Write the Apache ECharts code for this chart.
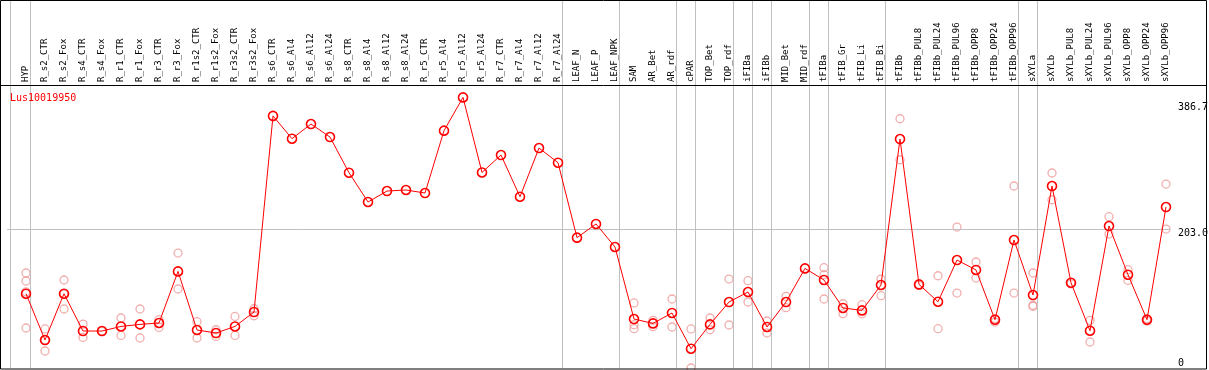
<!DOCTYPE html>
<html>
<head>
<meta charset="utf-8">
<script src="https://cdn.jsdelivr.net/npm/echarts@6/dist/echarts.min.js"></script>
<style>html,body{margin:0;padding:0;background:#fff;}#c{width:1209px;height:370px;}</style>
</head>
<body>
<div id="c"></div>
<script>
var categories = ["HYP","R_s2_CTR","R_s2_Fox","R_s4_CTR","R_s4_Fox","R_r1_CTR","R_r1_Fox","R_r3_CTR","R_r3_Fox","R_r1s2_CTR","R_r1s2_Fox","R_r3s2_CTR","R_r3s2_Fox",
"R_s6_CTR","R_s6_Al4","R_s6_Al12","R_s6_Al24","R_s8_CTR","R_s8_Al4","R_s8_Al12","R_s8_Al24","R_r5_CTR","R_r5_Al4","R_r5_Al12","R_r5_Al24","R_r7_CTR","R_r7_Al4","R_r7_Al12","R_r7_Al24",
"LEAF_N","LEAF_P","LEAF_NPK","SAM","AR_Bet","AR_rdf","cPAR","TOP_Bet","TOP_rdf","iFIBa","iFIBb","MID_Bet","MID_rdf","tFIBa","tFIB_Gr","tFIB_Li","tFIB_Bi",
"tFIBb","tFIBb_PUL8","tFIBb_PUL24","tFIBb_PUL96","tFIBb_OPP8","tFIBb_OPP24","tFIBb_OPP96",
"sXYLa","sXYLb","sXYLb_PUL8","sXYLb_PUL24","sXYLb_PUL96","sXYLb_OPP8","sXYLb_OPP24","sXYLb_OPP96"];

var means = [108.3, 40.8, 108.3, 53.9, 53.9, 60.6, 63.6, 65.6, 140.8, 55.4, 51.0, 60.6, 81.6,
367.5, 334.3, 355.7, 336.7, 284.7, 242.0, 258.0, 259.5, 255.1, 346.0, 394.5, 285.1, 310.5, 249.7, 320.7, 299.3,
190.0, 210.0, 176.4,
71.4, 65.0, 80.2, 28.1, 63.6, 96.2, 110.8, 59.8, 96.2, 145.2, 128.3, 87.5, 84.0, 121.0,
333.8, 121.9, 96.6, 157.4, 142.9, 70.4, 186.6,
106.4, 265.3, 124.3, 54.4, 207.0, 136.0, 70.4, 234.7];

var replicates = [
[138.5,126.8,111,58.3],[56.9,24.8,41],[128.3,86,108],[64.1,44.6],[53.9],[72.9,47.5],[86,43.7],[70.4,59.2],[167.6,115.2],[67.5,43.7],[55.8,46.1],[75.2,47.5],[86.4,76.2],
[],[],[],[],[],[],[],[],[],[],[],[],[],[],[],[],
[],[],[],
[94.8,63.1,57.3],[69.4,60.2],[100.6,59.8],[56.9,0],[72.9,55.8],[129.7,62.7],[127.3,96.2],[68.5,51],[104.4,87.9],[],[146.2,136,100.6],[93.7,79.2],[92.3,79.2],[129.7,105.4],
[363.4,303.6],[120.5],[134.5,57.3],[205.5,109.3],[154.5,131.2],[67,72],[265.3,109.3],
[138.5,91.5,89.8],[284.3,245.3],[122.5],[69.4,37.9],[220.6,195.3],[143.3,127.7],[68.5,72],[268.2,202.6]];

var groupEnds = [0, 28, 31, 34, 35, 37, 38, 39, 41, 42, 45, 52, 53, 60];
var yTickValues = [0, 203.0, 386.7];
var yTickLabels = ["0", "203.0", "386.7"];
var geneName = "Lus10019950";

var FONT = "DejaVu Sans Mono";
var lineData = means.map(function(v,i){return [i,v];});
var repData = [];
replicates.forEach(function(arr,i){arr.forEach(function(v){repData.push([i,v]);});});

var vLines = [{xAxis: -0.842}].concat(groupEnds.map(function(g){return {xAxis: g + 0.237};}));
var hLines = yTickValues.map(function(v,k){
  return {yAxis: v,
    lineStyle: {color: v === 203.0 ? '#c0c0c0' : 'rgba(0,0,0,0)', width: 1, type: 'solid'},
    label: {show: true, position: 'end', distance: 8, formatter: yTickLabels[k], color: '#000',
      fontFamily: FONT, fontSize: 10, verticalAlign: v === 0 ? 'bottom' : 'top'}};
});

var chart = echarts.init(document.getElementById('c'), null, {renderer: 'canvas'});
chart.setOption({
  animation: false,
  backgroundColor: '#fff',
  grid: {left: 7, right: 39, top: 0, bottom: 2},
  xAxis: {type: 'value', min: -1, max: 60.21, interval: 1, position: 'top', offset: -85,
    axisLine: {show: false}, axisTick: {show: false}, splitLine: {show: false},
    axisLabel: {rotate: 90, margin: 3, showMaxLabel: false, showMinLabel: false,
      fontFamily: FONT, fontSize: 9, color: '#000',
      formatter: function(v){var r = Math.round(v); if (Math.abs(v - r) > 1e-6) return ''; return categories[r] || '';}}},
  yAxis: {type: 'value', min: 0, max: 536.5, show: false},
  series: [
    {type: 'line', data: [], silent: true,
      markLine: {silent: true, symbol: ['none','none'], animation: false,
        lineStyle: {color: '#c0c0c0', width: 1, type: 'solid'}, label: {show: false},
        data: vLines.concat(hLines)}},
    {type: 'scatter', data: repData, symbol: 'circle', symbolSize: 8, z: 3,
      itemStyle: {color: 'rgba(0,0,0,0)', borderColor: '#ee9a9a', borderWidth: 1.3}},
    {type: 'line', data: lineData, symbol: 'circle', symbolSize: 9, z: 5,
      lineStyle: {color: '#ff0000', width: 1},
      itemStyle: {color: 'rgba(0,0,0,0)', borderColor: '#ff0000', borderWidth: 1.6}}
  ],
  graphic: [
    {type: 'rect', shape: {x: 0.5, y: 0.5, width: 1206, height: 368.5}, style: {fill: 'none', stroke: '#000', lineWidth: 1}, z: 100},
    {type: 'line', shape: {x1: 0, y1: 85.5, x2: 1207, y2: 85.5}, style: {stroke: '#000', lineWidth: 1}, z: 100},
    {type: 'text', left: 10, top: 93, style: {text: geneName, fill: '#ff0000', font: '10px "DejaVu Sans Mono"'}, z: 100}
  ]
});
</script>
</body>
</html>
